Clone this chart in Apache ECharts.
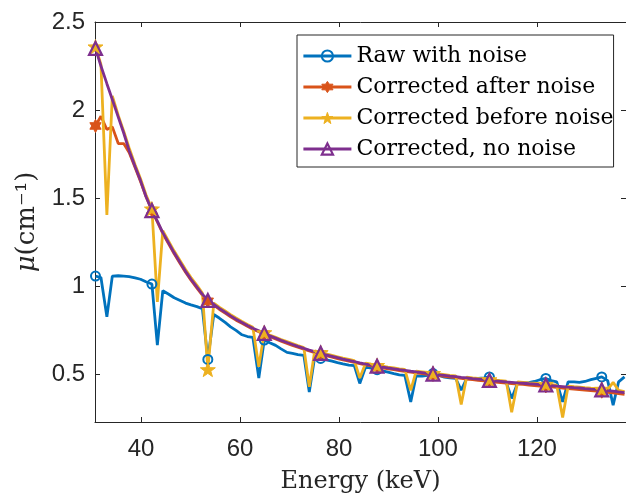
<!DOCTYPE html>
<html>
<head>
<meta charset="utf-8">
<script src="https://cdn.jsdelivr.net/npm/echarts@6/dist/echarts.min.js"></script>
<style>
  html, body { margin: 0; padding: 0; background: #fff; }
  #chart { width: 626px; height: 494px; }
</style>
</head>
<body>
<div id="chart"></div>
<script>
// energy samples (keV)
const energy = [
  30.8, 31.9, 33.1, 34.2, 35.4, 36.5, 37.6, 38.8, 39.9, 41.0,
  42.2, 43.3, 44.4, 45.6, 46.7, 47.9, 49.0, 50.1, 51.3, 52.4,
  53.5, 54.7, 55.8, 57.0, 58.1, 59.2, 60.4, 61.5, 62.6, 63.8,
  64.9, 66.0, 67.2, 68.3, 69.5, 70.6, 71.7, 72.9, 74.0, 75.1,
  76.3, 77.4, 78.6, 79.7, 80.8, 82.0, 83.1, 84.2, 85.4, 86.5,
  87.7, 88.8, 89.9, 91.1, 92.2, 93.3, 94.5, 95.6, 96.8, 97.9,
  99.0, 100.2, 101.3, 102.4, 103.6, 104.7, 105.8, 107.0, 108.1, 109.3,
  110.4, 111.5, 112.7, 113.8, 114.9, 116.1, 117.2, 118.4, 119.5, 120.6,
  121.8, 122.9, 124.0, 125.2, 126.3, 127.5, 128.6, 129.7, 130.9, 132.0,
  133.1, 134.3, 135.4, 136.5, 137.7
];

const rawNoise = [
  1.058, 1.05, 0.827, 1.058, 1.06, 1.058, 1.055, 1.048, 1.04, 1.026,
  1.013, 0.666, 0.975, 0.955, 0.935, 0.92, 0.905, 0.895, 0.885, 0.873,
  0.585, 0.84, 0.82, 0.795, 0.77, 0.75, 0.725, 0.715, 0.71, 0.479,
  0.695, 0.68, 0.665, 0.645, 0.625, 0.62, 0.613, 0.608, 0.40, 0.60,
  0.591, 0.583, 0.575, 0.567, 0.56, 0.553, 0.55, 0.449, 0.543, 0.535,
  0.527, 0.52, 0.513, 0.505, 0.498, 0.495, 0.344, 0.492, 0.49, 0.495,
  0.505, 0.495, 0.485, 0.48, 0.477, 0.411, 0.477, 0.477, 0.478, 0.48,
  0.486, 0.47, 0.458, 0.455, 0.364, 0.452, 0.452, 0.453, 0.46, 0.47,
  0.477, 0.465, 0.458, 0.344, 0.458, 0.458, 0.455, 0.46, 0.47, 0.478,
  0.486, 0.465, 0.326, 0.458, 0.486
];

const afterNoise = [
  1.91, 1.965, 1.89, 1.905, 1.81, 1.81, 1.76, 1.675, 1.595, 1.51,
  1.43, 1.365, 1.30, 1.24, 1.185, 1.13, 1.08, 1.035, 0.99, 0.95,
  0.915, 0.893, 0.87, 0.848, 0.827, 0.808, 0.79, 0.773, 0.757, 0.742,
  0.728, 0.714, 0.701, 0.688, 0.676, 0.665, 0.654, 0.643, 0.633, 0.624,
  0.615, 0.606, 0.598, 0.59, 0.582, 0.575, 0.568, 0.561, 0.554, 0.548,
  0.542, 0.537, 0.532, 0.527, 0.522, 0.518, 0.513, 0.509, 0.505, 0.501,
  0.497, 0.493, 0.489, 0.485, 0.482, 0.478, 0.474, 0.47, 0.467, 0.464,
  0.46, 0.457, 0.454, 0.451, 0.448, 0.445, 0.443, 0.44, 0.437, 0.434,
  0.432, 0.429, 0.426, 0.423, 0.42, 0.417, 0.414, 0.411, 0.408, 0.405,
  0.402, 0.398, 0.395, 0.391, 0.387
];

const beforeNoise = [
  2.36, 2.26, 1.405, 2.08, 1.97, 1.88, 1.785, 1.69, 1.61, 1.52,
  1.44, 0.912, 1.315, 1.255, 1.2, 1.145, 1.095, 1.05, 1.005, 0.962,
  0.528, 0.905, 0.882, 0.86, 0.839, 0.82, 0.801, 0.784, 0.768, 0.543,
  0.738, 0.724, 0.711, 0.698, 0.686, 0.675, 0.664, 0.653, 0.43, 0.634,
  0.625, 0.616, 0.608, 0.6, 0.592, 0.585, 0.578, 0.48, 0.564, 0.558,
  0.552, 0.547, 0.542, 0.537, 0.532, 0.528, 0.41, 0.519, 0.515, 0.511,
  0.507, 0.503, 0.499, 0.495, 0.492, 0.33, 0.485, 0.481, 0.478, 0.475,
  0.471, 0.468, 0.465, 0.462, 0.285, 0.457, 0.455, 0.452, 0.45, 0.447,
  0.445, 0.442, 0.439, 0.256, 0.433, 0.43, 0.428, 0.425, 0.422, 0.42,
  0.417, 0.415, 0.455, 0.41, 0.402
];

const noNoise = [
  2.35, 2.25, 2.15, 2.06, 1.96, 1.87, 1.77, 1.68, 1.60, 1.51,
  1.43, 1.37, 1.305, 1.245, 1.19, 1.135, 1.085, 1.04, 0.995, 0.955,
  0.92, 0.898, 0.875, 0.853, 0.832, 0.813, 0.795, 0.778, 0.762, 0.747,
  0.733, 0.719, 0.706, 0.693, 0.681, 0.67, 0.659, 0.648, 0.638, 0.629,
  0.62, 0.611, 0.603, 0.595, 0.587, 0.58, 0.573, 0.566, 0.559, 0.553,
  0.547, 0.542, 0.537, 0.532, 0.527, 0.523, 0.518, 0.514, 0.51, 0.506,
  0.502, 0.498, 0.494, 0.49, 0.487, 0.483, 0.48, 0.476, 0.473, 0.47,
  0.466, 0.463, 0.46, 0.457, 0.455, 0.452, 0.45, 0.447, 0.445, 0.442,
  0.44, 0.437, 0.434, 0.431, 0.428, 0.425, 0.423, 0.42, 0.417, 0.415,
  0.412, 0.408, 0.405, 0.401, 0.397
];

const markerIdx = [0, 10, 20, 30, 40, 50, 60, 70, 80, 90];
const xTicks = [40, 60, 80, 100, 120];
const yTicks = [0.5, 1, 1.5, 2, 2.5];
const names = ["Raw with noise", "Corrected after noise", "Corrected before noise", "Corrected, no noise"];

const colors = ["#0072BD", "#D95319", "#EDB120", "#7E2F8E"];
const axisColor = "#262626";
const hexagram = "path://M0,-10 L2.887,-5 L8.66,-5 L5.774,0 L8.66,5 L2.887,5 L0,10 L-2.887,5 L-8.66,5 L-5.774,0 L-8.66,-5 L-2.887,-5 Z";
const pentagram = "path://M0,-10 L2.35,-3.24 L9.51,-3.09 L3.8,1.24 L5.88,8.09 L0,4 L-5.88,8.09 L-3.8,1.24 L-9.51,-3.09 L-2.35,-3.24 Z";

// only every 10th sample carries a marker
function toData(vals) {
  return energy.map((e, i) => {
    const item = { value: [e, vals[i]] };
    if (!markerIdx.includes(i)) item.symbol = "none";
    return item;
  });
}

const symbols = [
  { symbol: "circle", size: 9, item: { color: "rgba(0,0,0,0)", borderColor: colors[0], borderWidth: 2 } },
  { symbol: hexagram, size: 13, item: { color: colors[1], borderColor: colors[1], borderWidth: 1 } },
  { symbol: pentagram, size: 15, item: { color: colors[2], borderColor: colors[2], borderWidth: 1 } },
  { symbol: "triangle", size: 13, item: { color: "rgba(0,0,0,0)", borderColor: colors[3], borderWidth: 2.2 } },
];

const seriesVals = [rawNoise, afterNoise, beforeNoise, noNoise];

const chart = echarts.init(document.getElementById("chart"));

const axisCommon = {
  type: "value",
  axisLine: { show: true, onZero: false, lineStyle: { color: axisColor, width: 1 } },
  axisTick: { show: true, inside: true, length: 5, lineStyle: { color: axisColor } },
  splitLine: { show: false },
};

chart.setOption({
  animation: false,
  grid: { left: 95, top: 22, right: 0, bottom: 72, containLabel: false, outerBoundsMode: "none" },
  legend: {
    orient: "vertical",
    left: 297,
    top: 35,
    padding: [10, 0, 7, 5],
    itemWidth: 48,
    itemHeight: 14,
    itemGap: 9,
    backgroundColor: "#fff",
    borderColor: axisColor,
    borderWidth: 1,
    borderRadius: 0,
    textStyle: { fontFamily: "DejaVu Serif", fontSize: 22, color: "#000" },
    data: names.map((n, i) => ({
      name: n,
      itemStyle: symbols[i].item,
      lineStyle: { color: colors[i], width: 2.8 },
    })),
  },
  xAxis: [
    {
      ...axisCommon,
      position: "bottom",
      min: 30.7,
      max: 138,
      name: "Energy (keV)",
      nameLocation: "middle",
      nameGap: 48,
      nameTextStyle: { fontFamily: "DejaVu Serif", fontSize: 24, color: axisColor },
      axisTick: { ...axisCommon.axisTick, customValues: xTicks },
      axisLabel: {
        customValues: xTicks,
        margin: 15,
        fontFamily: "Liberation Sans",
        fontSize: 24,
        color: axisColor,
      },
    },
    {
      ...axisCommon,
      position: "top",
      min: 30.7,
      max: 138,
      axisTick: { ...axisCommon.axisTick, customValues: xTicks },
      axisLabel: { show: false },
    },
  ],
  yAxis: [
    {
      ...axisCommon,
      position: "left",
      min: 0.23,
      max: 2.5,
      name: "{i|μ}(cm⁻¹)",
      nameLocation: "middle",
      nameGap: 50,
      nameTextStyle: {
        fontFamily: "DejaVu Serif",
        fontSize: 26,
        color: axisColor,
        rich: { i: { fontFamily: "DejaVu Serif", fontStyle: "italic", fontSize: 26, color: axisColor } },
      },
      axisTick: { ...axisCommon.axisTick, customValues: yTicks },
      axisLabel: {
        customValues: yTicks,
        margin: 10,
        fontFamily: "Liberation Sans",
        fontSize: 24,
        color: axisColor,
      },
    },
    {
      ...axisCommon,
      position: "right",
      min: 0.23,
      max: 2.5,
      axisTick: { ...axisCommon.axisTick, customValues: yTicks },
      axisLabel: { show: false },
    },
  ],
  series: names.map((n, i) => ({
    name: n,
    type: "line",
    xAxisIndex: 0,
    yAxisIndex: 0,
    data: toData(seriesVals[i]),
    showSymbol: true,
    showAllSymbol: true,
    symbol: symbols[i].symbol,
    symbolSize: symbols[i].size,
    symbolKeepAspect: true,
    lineStyle: { color: colors[i], width: 2.8 },
    itemStyle: symbols[i].item,
    emphasis: { disabled: true },
  })),
});
</script>
</body>
</html>
